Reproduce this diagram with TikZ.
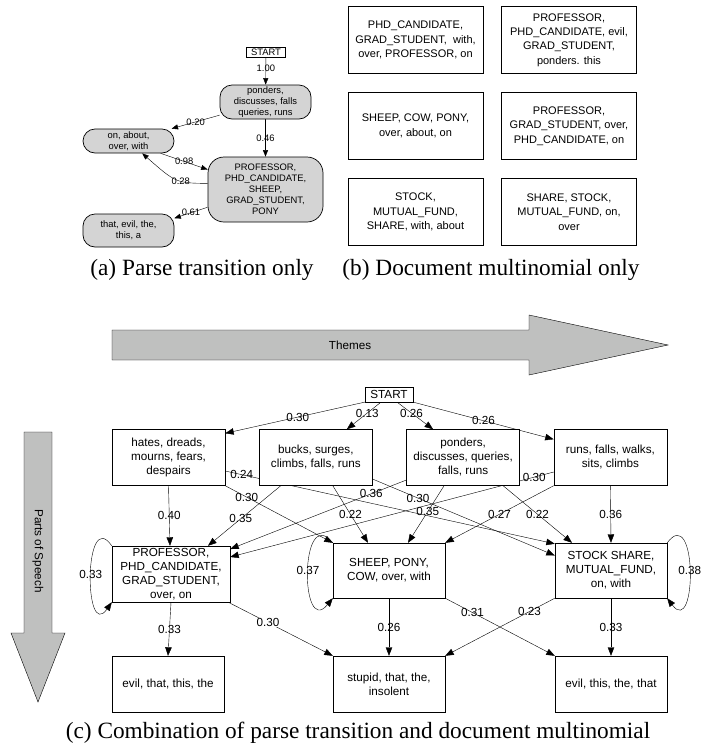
\documentclass[tikz,border=0pt]{standalone}
\usepackage{fontspec}
\setmainfont{Liberation Serif}
\setsansfont{Liberation Sans}
\usetikzlibrary{positioning, arrows.meta}

\pgfdeclarelayer{background}
\pgfsetlayers{background,main}

\definecolor{bandgray}{RGB}{191,192,191}
\definecolor{stategray}{RGB}{212,212,212}

\newcommand{\parsefont}{\sffamily\fontsize{9.4}{11}\selectfont}
\newcommand{\docfont}{\sffamily\fontsize{11}{14.3}\selectfont}
\newcommand{\combfont}{\sffamily\fontsize{11.7}{14}\selectfont}
\newcommand{\capfont}{\rmfamily\fontsize{23.3}{28}\selectfont}

\tikzset{
  parse/.style={draw, fill=stategray, rounded corners=12pt, align=center,
    font=\parsefont, inner sep=1pt, minimum width=91pt},
  doc/.style={draw, fill=white, align=center, font=\docfont, inner sep=1pt,
    minimum width=135pt, minimum height=67pt},
  comb/.style={draw, fill=white, align=center, font=\combfont, inner sep=1pt,
    minimum width=113pt, minimum height=56pt},
  startbox/.style={draw, fill=white, text depth=0pt},
  plab/.style={font=\parsefont, inner sep=0.5pt},
  clab/.style={font=\combfont, inner sep=0.5pt},
  band/.style={draw, fill=bandgray}
}

\begin{document}
\begin{tikzpicture}[x=1pt, y=-1pt, on grid, line width=0.7pt,
    >={Triangle[length=8.5pt,width=6.5pt]}]
  \useasboundingbox (0,0) rectangle (703,753);

  % (a) parse transition only
  \node[startbox, font=\parsefont, inner xsep=4.5pt, inner ysep=1.6pt,
    text height=6.8pt] (s_a) at (266,52) {START};
  \node[parse, minimum height=34pt] (n1) at (265.5,102) {ponders,\\discusses, falls\\queries, runs};
  \node[parse, minimum height=24pt] (n2) at (128.5,141) {on, about,\\over, with};
  \node[parse, rounded corners=16pt, minimum width=115pt, minimum height=65pt]
    (n3) at (265.5,189.5) {PROFESSOR,\\PHD\_CANDIDATE,\\SHEEP,\\GRAD\_STUDENT,\\PONY};
  \node[parse, minimum height=33pt] (n4) at (128.5,230.5) {that, evil, the,\\this, a};

  \begin{pgfonlayer}{background}
    \path[->, >={Triangle[length=6.5pt,width=5pt]}]
      (s_a) edge node[plab, pos=.4] {1.00} (n1)
      (n1.196) edge node[plab] {0.20} (n2.16)
      (n1) edge node[plab] {0.46} (n3)
      (n2.-21) edge node[plab] {0.98} (n3.161)
      (n3.197) edge node[plab] {0.61} (n4.15);
    \draw[->, >={Triangle[length=6.5pt,width=5pt]}]
      (n3.174) .. controls (176,183) .. node[plab, pos=.4] {0.28} (n2.-42);
  \end{pgfonlayer}

  \node[font=\capfont] (cap_a) at (202,270) {(a) Parse transition only};

  % (b) document multinomial only
  \node[doc] (d11) at (415.5,40) {PHD\_CANDIDATE,\\GRAD\_STUDENT,\ \ with,\\over, PROFESSOR, on};
  \node[doc] (d12) [right=153.5pt of d11] {PROFESSOR,\\PHD\_CANDIDATE, evil,\\GRAD\_STUDENT,\\ponders. this};
  \node[doc] (d21) [below=86pt of d11] {SHEEP, COW, PONY,\\over, about, on};
  \node[doc] (d22) [right=153.5pt of d21] {PROFESSOR,\\GRAD\_STUDENT, over,\\PHD\_CANDIDATE, on};
  \node[doc] (d31) [below=86pt of d21] {STOCK,\\MUTUAL\_FUND,\\SHARE, with, about};
  \node[doc] (d32) [right=153.5pt of d31] {SHARE, STOCK,\\MUTUAL\_FUND, on,\\over};

  \node[font=\capfont] (cap_b) at (491,270) {(b) Document multinomial only};

  % (c) combination
  \draw[band] (112,330) -- (529,330) -- (529,315) -- (668,345) -- (529,375)
    -- (529,360) -- (112,360) -- cycle;
  \node[font=\combfont] (themes) at (350,345) {Themes};
  \draw[band] (24,432) -- (52,432) -- (52,633) -- (65,633) -- (38,702)
    -- (11,633) -- (24,633) -- cycle;
  \node[font=\combfont, rotate=-90] (pos) at (38,551) {Parts of Speech};

  \node[startbox, font=\combfont, inner xsep=5.3pt, inner ysep=3.2pt,
    text height=8.4pt] (s_c) at (389,394.5) {START};

  \node[comb] (h1) at (168.5,457.5) {hates, dreads,\\mourns, fears,\\despairs};
  \node[comb] (h2) [right=147.3pt of h1] {bucks, surges,\\climbs, falls, runs};
  \node[comb] (h3) [right=147.3pt of h2] {ponders,\\discusses, queries,\\falls, runs};
  \node[comb] (h4) [right=147.3pt of h3] {runs, falls, walks,\\sits, climbs};

  \node[comb, minimum width=118pt] (m1) at (171,574) {PROFESSOR,\\PHD\_CANDIDATE,\\GRAD\_STUDENT,\\over, on};
  \node[comb, minimum width=112pt, minimum height=55pt] (m2) at (389,570.5) {SHEEP, PONY,\\COW, over, with};
  \node[comb, minimum width=112pt, minimum height=55pt] (m3) [right=222pt of m2] {STOCK SHARE,\\MUTUAL\_FUND,\\on, with};

  \node[comb, minimum width=112pt] (b1) at (168,684) {evil, that, this, the};
  \node[comb, minimum width=112pt] (b2) [right=221pt of b1] {stupid, that, the,\\insolent};
  \node[comb, minimum width=112pt] (b3) [right=222pt of b2] {evil, this, the, that};

  \begin{pgfonlayer}{background}
    \path[->]
      (s_c.south west) edge node[clab, pos=.48] {0.30} ([yshift=-4pt]h1.north east)
      ([xshift=-8pt]s_c.south) edge node[clab, pos=.4] {0.13} ([xshift=31pt]h2.north)
      ([xshift=8pt]s_c.south) edge node[clab, pos=.4] {0.26} ([xshift=-30pt]h3.north)
      (s_c.south east) edge node[clab, pos=.5] {0.26} ([yshift=-10pt]h4.north west)
      (h1.south) edge node[clab] {0.40} ([xshift=-1pt]m1.north)
      (h1.south east) edge node[clab, pos=.2] {0.30} (m2.north west)
      ([yshift=-13.5pt]h1.east) edge node[clab, pos=.05] {0.24} ([yshift=-1pt]m3.north west)
      ([xshift=-35pt]h2.south) edge node[clab, pos=.55] {0.35} ([xshift=37pt]m1.north)
      ([xshift=17pt]h2.south) edge node[clab] {0.22} ([xshift=-21pt]m2.north)
      ([yshift=-21.5pt]h2.east) edge node[clab, pos=.25] {0.30} ([yshift=15pt]m3.west)
      ([yshift=-22.5pt]h3.west) edge node[clab, pos=.2] {0.36} ([yshift=25pt]m1.east)
      ([xshift=-19pt]h3.south) edge node[clab, pos=.45] {0.35} ([xshift=19pt]m2.north)
      ([xshift=40pt]h3.south) edge node[clab] {0.22} ([xshift=-39pt]m3.north)
      ([yshift=-14.5pt]h4.west) edge node[clab, pos=.06] {0.30} ([yshift=17pt]m1.east)
      (h4.south west) edge node[clab] {0.27} (m2.north east)
      (h4.south) edge node[clab] {0.36} (m3.north)
      (m1.south) edge node[clab] {0.33} (b1.north)
      ([xshift=-2pt]m1.south east) edge node[clab, fill=white, pos=.38] {0.30} (b2.north west)
      (m2.south) edge node[clab] {0.26} (b2.north)
      (m2.south east) edge node[clab, pos=.25] {0.31} (b3.north west)
      (m3.south west) edge node[clab, pos=.23] {0.23} (b2.north east)
      (m3.south) edge node[clab] {0.33} (b3.north);
    \draw[->] (m1.north west) .. controls +(-28,-40) and +(-28,40) .. node[clab] {0.33} (m1.south west);
    \draw[->] (m2.north west) .. controls +(-33,-40) and +(-33,40) .. node[clab] {0.37} (m2.south west);
    \draw[->] (m3.north east) .. controls +(30,-40) and +(30,40) .. node[clab] {0.38} (m3.south east);
  \end{pgfonlayer}

  \node[font=\capfont] (cap_c) at (358,733) {(c) Combination of parse transition and document multinomial};
\end{tikzpicture}
\end{document}
